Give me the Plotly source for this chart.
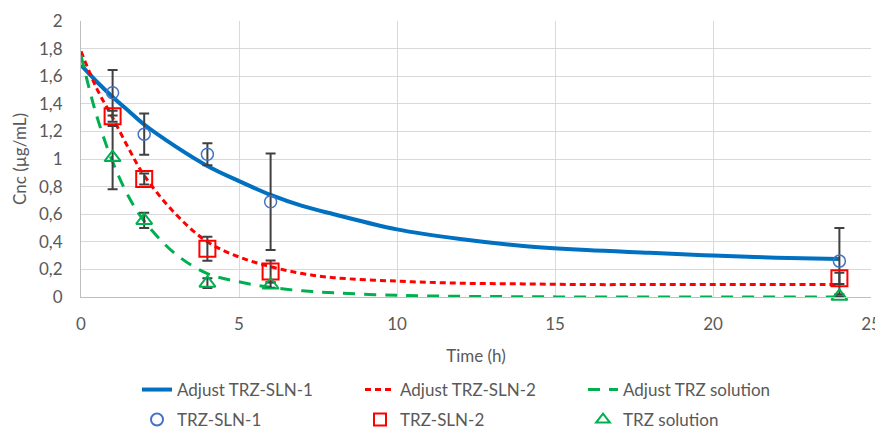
import plotly.graph_objects as go

# Fitted curves
fit_t = [0, 0.5, 1, 1.5, 2, 3, 4, 5, 6, 7, 8, 10, 12, 14, 16, 18, 20, 22, 24]
fit_sln1 = [1.68, 1.56, 1.45, 1.35, 1.25, 1.09, 0.95, 0.84, 0.74, 0.66, 0.60, 0.49, 0.42, 0.37, 0.34, 0.32, 0.30, 0.285, 0.275]
fit_sln2 = [1.78, 1.51, 1.30, 1.08, 0.88, 0.60, 0.40, 0.29, 0.22, 0.17, 0.14, 0.115, 0.10, 0.095, 0.09, 0.09, 0.09, 0.09, 0.09]
fit_sol = [1.75, 1.31, 0.98, 0.73, 0.55, 0.31, 0.17, 0.11, 0.07, 0.045, 0.03, 0.012, 0.005, 0.002, 0.0, 0.0, 0.0, 0.0, 0.0]

# Measured data
t_obs = [1, 2, 4, 6, 24]
sln1 = [1.48, 1.18, 1.035, 0.69, 0.26]
sln1_err = [0.165, 0.15, 0.08, 0.35, 0.24]
sln2 = [1.31, 0.855, 0.35, 0.185, 0.135]
sln2_err = [0.04, 0.04, 0.087, 0.08, 0.04]
sol = [1.01, 0.555, 0.10, 0.087, 0.005]
sol_err = [0.23, 0.055, 0.035, 0.02, 0.0]

FONT = "Lato"
GRAY = "#595959"
ERRC = "#404040"
FS = 17

# The page body has an 8px default margin: the figure is sized to the visible area.
OFF = 8
W, H = 883 - OFF, 434 - OFF

fig = go.Figure()
fig.add_trace(go.Scatter(x=fit_t, y=fit_sln1, mode="lines", name="Adjust TRZ-SLN-1",
                         line=dict(color="#0070C0", width=4, shape="spline"), legend="legend"))
fig.add_trace(go.Scatter(x=fit_t, y=fit_sln2, mode="lines", name="Adjust TRZ-SLN-2",
                         line=dict(color="#FF0000", width=3, dash="6px,4px", shape="spline"), legend="legend"))
fig.add_trace(go.Scatter(x=fit_t, y=fit_sol, mode="lines", name="Adjust TRZ solution",
                         line=dict(color="#00B050", width=3, dash="12px,9px", shape="spline"), legend="legend"))

def err(e):
    return dict(type="data", array=e, visible=True, color=ERRC, thickness=2, width=5)

fig.add_trace(go.Scatter(x=t_obs, y=sln1, mode="markers", name="TRZ-SLN-1", error_y=err(sln1_err),
                         marker=dict(symbol="circle-open", size=12, color="#4472C4", line=dict(width=1.5)),
                         legend="legend2", cliponaxis=False))
fig.add_trace(go.Scatter(x=t_obs, y=sln2, mode="markers", name="TRZ-SLN-2", error_y=err(sln2_err),
                         marker=dict(symbol="square-open", size=16, color="#FF0000", line=dict(width=2)),
                         legend="legend2", cliponaxis=False))
fig.add_trace(go.Scatter(x=t_obs, y=sol, mode="markers", name="TRZ solution", error_y=err(sol_err),
                         marker=dict(symbol="triangle-up-open", size=14, color="#00B050", line=dict(width=2)),
                         legend="legend2", cliponaxis=False))

legend_common = dict(orientation="h", xref="container", yref="container", x=(137 - OFF) / W, xanchor="left",
                     yanchor="middle", entrywidth=178, entrywidthmode="pixels",
                     font=dict(family=FONT, size=FS, color=GRAY), bgcolor="rgba(0,0,0,0)",
                     borderwidth=0, tracegroupgap=0)

fig.update_layout(
    width=W, height=H,
    margin=dict(l=81 - OFF, r=12, t=21 - OFF, b=137),
    paper_bgcolor="white", plot_bgcolor="white",
    font=dict(family=FONT, size=FS, color=GRAY),
    separators=", ",
    xaxis=dict(range=[0, 25], dtick=5, tick0=0, showgrid=True, gridcolor="#D9D9D9", gridwidth=1,
               showline=True, linecolor="#BFBFBF", linewidth=1, zeroline=False, ticks="",
               automargin=False, ticklabelstandoff=12,
               title=dict(text="Time (h)", standoff=16, font=dict(size=FS, color=GRAY)),
               tickfont=dict(size=FS, color=GRAY)),
    yaxis=dict(range=[0, 2], dtick=0.2, tick0=0, showgrid=True, gridcolor="#D9D9D9", gridwidth=1,
               showline=True, linecolor="#BFBFBF", linewidth=1, zeroline=False, ticks="",
               automargin=False, ticklabelstandoff=14,
               title=dict(text="Cnc (µg/mL)", standoff=8, font=dict(size=FS, color=GRAY)),
               tickfont=dict(size=FS, color=GRAY)),
    legend=dict(y=1 - (390 - OFF) / H, **legend_common),
    legend2=dict(y=1 - (420 - OFF) / H, itemsizing="constant", **legend_common),
    showlegend=True,
)

fig.write_html("out.html")
